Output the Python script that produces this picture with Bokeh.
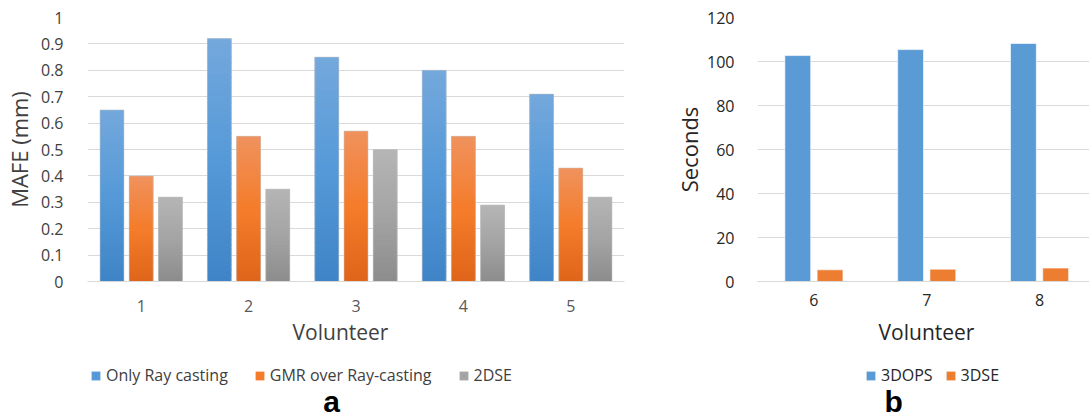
from bokeh.plotting import figure
from bokeh.models import Range1d, FixedTicker, Legend, LegendItem, Label
from bokeh.layouts import row, column
from bokeh.embed import file_html
from bokeh.resources import INLINE

# ---- Panel a: MAFE per volunteer for three methods ----
volunteers_a = ["1", "2", "3", "4", "5"]
only_ray_casting = [0.65, 0.92, 0.85, 0.80, 0.71]
gmr_over_ray_casting = [0.40, 0.55, 0.57, 0.55, 0.43]
dse_2d = [0.32, 0.35, 0.50, 0.29, 0.32]
series_a_names = ["Only Ray casting", "GMR over Ray-casting", "2DSE"]
mafe_ticks = [0, 0.1, 0.2, 0.3, 0.4, 0.5, 0.6, 0.7, 0.8, 0.9, 1]
mafe_tick_labels = ["0", "0.1", "0.2", "0.3", "0.4", "0.5", "0.6", "0.7", "0.8", "0.9", "1"]

# ---- Panel b: run time per volunteer ----
volunteers_b = ["6", "7", "8"]
time_3dops = [102.7, 105.4, 108.2]
time_3dse = [5.3, 5.6, 6.1]
series_b_names = ["3DOPS", "3DSE"]
seconds_ticks = [0, 20, 40, 60, 80, 100, 120]
seconds_tick_labels = ["0", "20", "40", "60", "80", "100", "120"]

FONT = "Open Sans"
GRID = "#d9d9d9"

# bottom / base / top colours of the vertical bar gradients
GRAD_BLUE = ("#3f84c6", "#5599d8", "#74a8dc")
GRAD_ORANGE = ("#df651a", "#f47c2a", "#f0925e")
GRAD_GRAY = ("#8c8c8c", "#a4a4a4", "#b5b5b5")

H = 418
CHART_H = 316           # plot area + category labels
FOOT_H = H - CHART_H    # axis title, legend and panel letter
W_A = 671
W_B = 418
LEFT_A, RIGHT_A = 87, W_A - 624
LEFT_B, RIGHT_B = 755 - W_A, 0


def _rgb(h):
    h = h.lstrip("#")
    return tuple(int(h[i:i + 2], 16) for i in (0, 2, 4))


def _mix(a, b, t):
    ca, cb = _rgb(a), _rgb(b)
    return "#%02x%02x%02x" % tuple(round(ca[i] + (cb[i] - ca[i]) * t) for i in range(3))


def grad_color(stops, t):
    lo, mid, hi = stops
    if t < 0.5:
        return _mix(lo, mid, t / 0.5)
    return _mix(mid, hi, (t - 0.5) / 0.5)


def gradient_bars(p, xs, values, width, stops, n=48):
    """Draw bars as stacks of thin slices shaded from bottom to top."""
    sx, sb, st, sc = [], [], [], []
    for x, v in zip(xs, values):
        for k in range(n):
            sx.append(x)
            sb.append(v * k / n)
            st.append(min(v, v * (k + 1.6) / n))
            sc.append(grad_color(stops, (k + 0.5) / n))
    p.vbar(x=sx, bottom=sb, top=st, width=width, fill_color=sc, line_color=None)


def style_axes(p, label_color_x, label_color_y):
    for ax in (p.xaxis, p.yaxis):
        ax.major_tick_line_color = None
        ax.minor_tick_line_color = None
        ax.major_label_text_font = FONT
        ax.major_label_text_font_size = "16px"
        ax.axis_label_text_font = FONT
        ax.axis_label_text_font_size = "22px"
        ax.axis_label_text_font_style = "normal"
    p.xaxis.axis_line_color = GRID
    p.yaxis.axis_line_color = None
    p.xaxis.major_label_text_color = label_color_x
    p.yaxis.major_label_text_color = label_color_y
    p.xgrid.grid_line_color = None
    p.ygrid.grid_line_color = GRID
    p.outline_line_color = None


def footer(width, left, right):
    """Blank strip under a chart, frame-aligned with it; data units are pixels
    measured from the strip's top-left corner."""
    f = figure(width=width, height=FOOT_H, x_range=Range1d(left, width - right),
               y_range=Range1d(FOOT_H, 0), output_backend="svg", toolbar_location=None,
               x_axis_location=None, y_axis_location=None,
               min_border_left=left, min_border_right=right,
               min_border_top=0, min_border_bottom=0)
    f.xgrid.grid_line_color = None
    f.ygrid.grid_line_color = None
    f.outline_line_color = None
    return f


def text_label(p, x, y, text, size, color, bold=False, font=FONT):
    p.add_layout(Label(x=x, y=y, text=text, text_align="center",
                       text_baseline="middle", text_font=font,
                       text_font_size=size, text_color=color,
                       text_font_style="bold" if bold else "normal"))


def footer_legend(f, names, colors, x0, spacing, text_color):
    items = []
    for name, c in zip(names, colors):
        # zero-size swatch source: only its fill colour is used by the legend
        r = f.vbar(x=[-1000], bottom=[0], top=[0], width=0, fill_color=c, line_color=None)
        items.append(LegendItem(label=name, renderers=[r]))
    leg = Legend(items=items, orientation="horizontal", location=(x0, 32),
                 padding=0, margin=0, spacing=spacing, glyph_width=11, glyph_height=11,
                 label_standoff=5, label_text_font=FONT, label_text_font_size="16px",
                 label_text_color=text_color, border_line_color=None,
                 background_fill_alpha=0)
    f.add_layout(leg)


# ================= panel a =================
pa = figure(width=W_A, height=CHART_H, x_range=Range1d(0.5, 5.5), y_range=Range1d(0, 1),
            output_backend="svg", toolbar_location=None,
            min_border_left=LEFT_A, min_border_right=RIGHT_A, min_border_top=17,
            min_border_bottom=CHART_H - 281)
style_axes(pa, "#595959", "#404040")
pa.xaxis.ticker = FixedTicker(ticks=list(range(1, len(volunteers_a) + 1)))
pa.xaxis.major_label_overrides = {i + 1: v for i, v in enumerate(volunteers_a)}
pa.xaxis.major_label_standoff = 12
pa.yaxis.ticker = FixedTicker(ticks=mafe_ticks)
pa.yaxis.major_label_overrides = dict(zip(mafe_ticks, mafe_tick_labels))
pa.yaxis.major_label_standoff = 18
pa.yaxis.axis_label = "MAFE (mm)"
pa.yaxis.axis_label_text_color = "#404040"
pa.yaxis.axis_label_standoff = 4

bar_w_a = 0.223
offsets_a = [-0.272, 0.0, 0.272]
series_a = [only_ray_casting, gmr_over_ray_casting, dse_2d]
grads_a = [GRAD_BLUE, GRAD_ORANGE, GRAD_GRAY]
for vals, off, g in zip(series_a, offsets_a, grads_a):
    xs = [i + 1 + off for i in range(len(vals))]
    pa.vbar(x=xs, top=vals, width=bar_w_a, fill_color=g[1], line_color=None)
    gradient_bars(pa, xs, vals, bar_w_a, g)
    pa.vbar(x=xs, top=vals, width=bar_w_a, fill_color=None, line_color="#c4c4c4",
            line_alpha=0.55, line_width=1)

fa = footer(W_A, LEFT_A, RIGHT_A)
text_label(fa, 340, 331 - CHART_H, "Volunteer", "21px", "#404040")
footer_legend(fa, series_a_names, [g[1] for g in grads_a], 90 - LEFT_A, 26, "#404040")
text_label(fa, 331, 401 - CHART_H, "a", "30px", "#000000", bold=True, font="Liberation Sans")

# ================= panel b =================
x_end_b = 0.5 + (1089 - 755) / 113.5
pb = figure(width=W_B, height=CHART_H, x_range=Range1d(0.5, x_end_b),
            y_range=Range1d(0, 120), output_backend="svg", toolbar_location=None,
            min_border_left=LEFT_B, min_border_right=RIGHT_B, min_border_top=17,
            min_border_bottom=CHART_H - 281)
style_axes(pb, "#262626", "#262626")
pb.xaxis.ticker = FixedTicker(ticks=list(range(1, len(volunteers_b) + 1)))
pb.xaxis.major_label_overrides = {i + 1: v for i, v in enumerate(volunteers_b)}
pb.xaxis.major_label_standoff = 6
pb.yaxis.ticker = FixedTicker(ticks=seconds_ticks)
pb.yaxis.major_label_overrides = dict(zip(seconds_ticks, seconds_tick_labels))
pb.yaxis.major_label_standoff = 17
pb.yaxis.axis_label = "Seconds"
pb.yaxis.axis_label_text_color = "#262626"
pb.yaxis.axis_label_standoff = 0

bar_w_b = 0.229
offsets_b = [-0.143, 0.143]
series_b = [time_3dops, time_3dse]
colors_b = ["#5b9bd5", "#ed7d31"]
for vals, off, c in zip(series_b, offsets_b, colors_b):
    xs = [i + 1 + off for i in range(len(vals))]
    pb.vbar(x=xs, top=vals, width=bar_w_b, fill_color=c, line_color="#ffffff",
            line_alpha=0.6, line_width=1)

fb = footer(W_B, LEFT_B, RIGHT_B)
text_label(fb, 925 - W_A, 331 - CHART_H, "Volunteer", "21px", "#262626")
footer_legend(fb, series_b_names, colors_b, 863 - 755, 12, "#262626")
text_label(fb, 892 - W_A, 401 - CHART_H, "b", "30px", "#000000", bold=True, font="Liberation Sans")

layout = row(column(pa, fa), column(pb, fb))
open("out.html", "w").write(file_html(layout, INLINE))
